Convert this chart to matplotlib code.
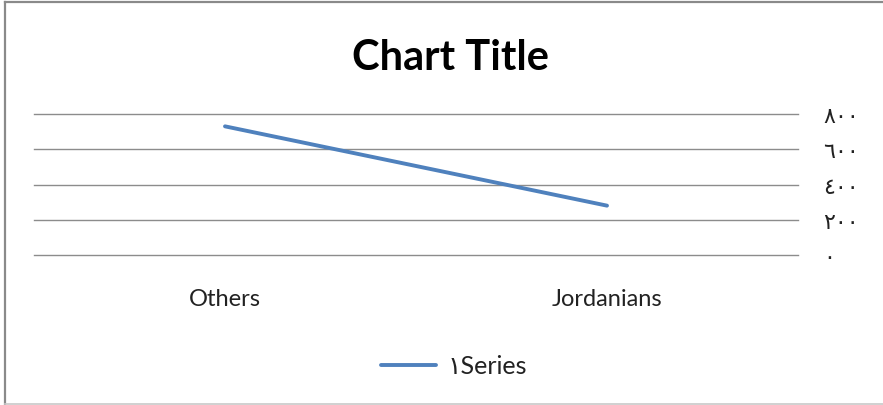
import matplotlib
matplotlib.use("Agg")
import matplotlib.pyplot as plt
from matplotlib.lines import Line2D

categories = ["Others", "Jordanians"]
values = [730, 280]
series_name = "١Series"
y_ticks = [0, 200, 400, 600, 800]
y_tick_labels = ["٠", "٢٠٠", "٤٠٠", "٦٠٠", "٨٠٠"]

W, H = 883, 406
fig = plt.figure(figsize=(W / 100, H / 100), dpi=100)
fig.patch.set_facecolor("white")

# outer chart frame (top, left, bottom edges)
frame = dict(transform=fig.transFigure, color="#8a8a8a", linewidth=1.6)
fig.add_artist(Line2D([4.5 / W, 1.0], [1 - 2.5 / H, 1 - 2.5 / H], **frame))
fig.add_artist(Line2D([4.5 / W, 4.5 / W], [1 - 2.5 / H, 1.5 / H], **frame))
fig.add_artist(Line2D([4.5 / W, 1.0], [1.5 / H, 1.5 / H],
                      transform=fig.transFigure, color="#c8c8c8", linewidth=1.2))

ax = fig.add_axes([34 / W, (H - 256) / H, (798 - 34) / W, (256 - 115) / H])
x = list(range(len(categories)))
ax.plot(x, values, color="#4F81BD", linewidth=2.8, solid_capstyle="round",
        label=series_name)

ax.set_xlim(-0.5, len(categories) - 0.5)
ax.set_ylim(0, 800)
ax.set_yticks(y_ticks)
ax.set_yticklabels(y_tick_labels, family=["DejaVu Sans"], fontsize=16,
                   color="#222222")
ax.yaxis.tick_right()
ax.tick_params(axis="y", length=0, pad=18)
ax.set_xticks(x)
ax.set_xticklabels(categories, family=["Lato", "DejaVu Sans"], fontsize=17,
                   color="#222222")
ax.tick_params(axis="x", length=0, pad=24)
ax.grid(axis="y", color="#8c8c8c", linewidth=1.0)
for gl in ax.get_ygridlines():
    gl.set_clip_on(False)
ax.set_axisbelow(True)
for s in ax.spines.values():
    s.set_visible(False)

fig.text(451 / W, 1 - 58 / H, "Chart Title", ha="center", va="center",
         family=["Lato", "DejaVu Sans"], fontweight="bold", fontsize=30)

leg = fig.legend(loc="center", bbox_to_anchor=(454 / W, 1 - 367 / H),
                 frameon=False, handlelength=2.2, handletextpad=0.5,
                 prop={"family": ["Lato", "DejaVu Sans"], "size": 18})
for t in leg.get_texts():
    t.set_color("#222222")

fig.savefig("out.png", dpi=100, facecolor="white")
